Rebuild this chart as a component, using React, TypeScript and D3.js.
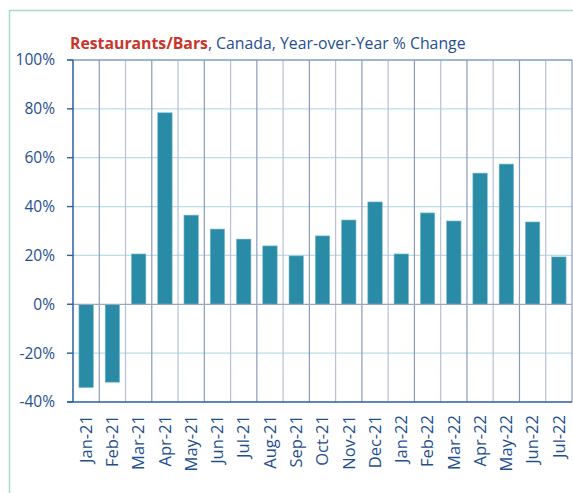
import React, { useEffect, useRef } from 'react';
import * as d3 from 'd3';

const months = ['Jan-21', 'Feb-21', 'Mar-21', 'Apr-21', 'May-21', 'Jun-21', 'Jul-21', 'Aug-21', 'Sep-21', 'Oct-21',
  'Nov-21', 'Dec-21', 'Jan-22', 'Feb-22', 'Mar-22', 'Apr-22', 'May-22', 'Jun-22', 'Jul-22'];
const yoyChange = [-34.1, -31.9, 20.6, 78.4, 36.5, 30.8, 26.7, 23.9, 19.8, 28.0,
  34.5, 41.9, 20.6, 37.4, 34.1, 53.7, 57.4, 33.7, 19.4];
const yTicks = [-40, -20, 0, 20, 40, 60, 80, 100];

const font = "'Open Sans', 'Noto Sans', sans-serif";

const App = () => {
  const svgRef = useRef<SVGSVGElement>(null);

  useEffect(() => {
    const svg = d3.select(svgRef.current);
    svg.selectAll('*').remove();

    const width = 573, height = 493;
    const margin = { top: 60, right: 1, bottom: 91, left: 73 };
    const chartWidth = width - margin.left - margin.right;
    const chartHeight = height - margin.top - margin.bottom;

    // outer frame
    svg.append('rect')
      .attr('x', 9.5).attr('y', 10.5)
      .attr('width', 600).attr('height', 600)
      .attr('fill', 'none')
      .attr('stroke', '#a6dcc6')
      .attr('stroke-width', 1.5);

    const title = svg.append('text')
      .attr('x', 70).attr('y', 49)
      .attr('font-family', font)
      .attr('font-size', 15.8);
    title.append('tspan').attr('fill', '#c8352b').attr('font-weight', 'bold').text('Restaurants/Bars');
    title.append('tspan').attr('fill', '#1f4f8f').text(', Canada, Year-over-Year % Change');

    const x = d3.scaleBand()
      .domain(months)
      .range([0, chartWidth])
      .paddingInner(0.45)
      .paddingOuter(0.225);

    const y = d3.scaleLinear()
      .domain([-40, 100])
      .range([chartHeight, 0]);

    const chart = svg.append('g')
      .attr('transform', `translate(${margin.left},${margin.top})`);

    // horizontal grid
    chart.selectAll('.hgrid')
      .data(yTicks.filter(d => d !== -40 && d !== 0 && d !== 100))
      .enter()
      .append('line')
      .attr('x1', -6).attr('x2', chartWidth)
      .attr('y1', d => y(d)).attr('y2', d => y(d))
      .attr('stroke', '#bcdcea')
      .attr('stroke-width', 1.2);

    // vertical grid at category boundaries
    const step = x.step();
    chart.selectAll('.vgrid')
      .data(d3.range(1, months.length + 1))
      .enter()
      .append('line')
      .attr('x1', i => i * step).attr('x2', i => i * step)
      .attr('y1', 0).attr('y2', chartHeight)
      .attr('stroke', i => (i % 2 === 0 ? '#b9c0d4' : '#8d9bb9'))
      .attr('stroke-width', 1.2);

    // top line
    chart.append('line')
      .attr('x1', -6).attr('x2', chartWidth)
      .attr('y1', y(100)).attr('y2', y(100))
      .attr('stroke', '#7f9cc4')
      .attr('stroke-width', 1.3);

    // bars
    chart.selectAll('.bar')
      .data(yoyChange)
      .enter()
      .append('rect')
      .attr('x', (d, i) => x(months[i]))
      .attr('y', d => y(Math.max(0, d)))
      .attr('width', x.bandwidth())
      .attr('height', d => Math.abs(y(d) - y(0)))
      .attr('fill', '#2a8ba7')
      .attr('stroke', '#7fbfcf')
      .attr('stroke-width', 0.6);

    // zero line
    chart.append('line')
      .attr('x1', -6).attr('x2', chartWidth)
      .attr('y1', y(0)).attr('y2', y(0))
      .attr('stroke', '#9aa6c2')
      .attr('stroke-width', 1.3);

    // left axis
    chart.append('line')
      .attr('x1', 0).attr('x2', 0)
      .attr('y1', 0).attr('y2', chartHeight)
      .attr('stroke', '#2d5f9b')
      .attr('stroke-width', 1.5);

    // bottom axis
    chart.append('line')
      .attr('x1', -6).attr('x2', chartWidth)
      .attr('y1', chartHeight).attr('y2', chartHeight)
      .attr('stroke', '#2d5f9b')
      .attr('stroke-width', 1.5);

    // y tick marks
    chart.selectAll('.ytick')
      .data(yTicks)
      .enter()
      .append('line')
      .attr('x1', -6).attr('x2', 0)
      .attr('y1', d => y(d)).attr('y2', d => y(d))
      .attr('stroke', '#2d5f9b')
      .attr('stroke-width', 1.3);

    // y labels
    chart.selectAll('.ylabel')
      .data(yTicks)
      .enter()
      .append('text')
      .attr('x', -18)
      .attr('y', d => y(d))
      .attr('dy', '0.35em')
      .attr('text-anchor', 'end')
      .attr('font-family', font)
      .attr('font-size', 15.5)
      .attr('fill', '#1f4f8f')
      .text(d => `${d}%`);

    // x labels
    chart.selectAll('.xlabel')
      .data(months)
      .enter()
      .append('text')
      .attr('transform', d => `translate(${x(d)! + x.bandwidth() / 2},${chartHeight + 13}) rotate(-90)`)
      .attr('dy', '0.35em')
      .attr('text-anchor', 'end')
      .attr('font-family', font)
      .attr('font-size', 16.5)
      .attr('fill', '#1f4f8f')
      .text(d => d);
  }, []);

  return (
    <svg ref={svgRef} width={573} height={493}
      style={{ position: 'absolute', left: 0, top: 0, background: '#fff' }} />
  );
};

export default App;
